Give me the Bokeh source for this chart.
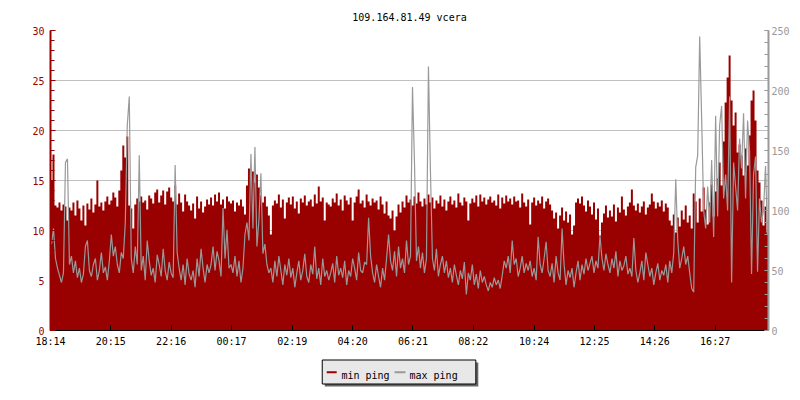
import numpy as np
from bokeh.plotting import figure
from bokeh.layouts import column
from bokeh.models import (LinearAxis, Range1d, FixedTicker, SingleIntervalTicker)
from bokeh.core.properties import value
from bokeh.embed import file_html
from bokeh.resources import INLINE

FONT = "DejaVu Sans Mono"
RED = "#990000"
GRAY = "#999999"

title_text = "109.164.81.49 vcera"
start_time = "18:14"
step_min = 4
tick_labels = ["18:14", "20:15", "22:16", "00:17", "02:19", "04:20",
               "06:21", "08:22", "10:24", "12:25", "14:26", "16:27"]
series_names = ["min ping", "max ping"]

min_ping = [
    15.0, 17.6, 12.5, 12.3, 12.8, 12.0, 12.6, 12.4, 11.0, 12.3,
    12.0, 12.8, 11.5, 13.0, 12.2, 11.0, 12.5, 10.5, 12.7, 12.1,
    13.2, 11.8, 12.6, 15.0, 12.4, 12.8, 12.0, 12.9, 13.4, 12.6,
    13.0, 13.8, 13.3, 12.4, 14.0, 16.0, 18.5, 17.3, 19.4, 12.5,
    12.2, 10.2, 12.6, 13.2, 12.9, 13.4, 12.8, 13.0, 12.1, 13.5,
    13.2, 12.7, 13.8, 14.1, 12.8, 13.5, 14.0, 12.6, 13.9, 14.3,
    13.3, 12.9, 14.5, 12.6, 13.7, 12.8, 11.9, 13.6, 12.9, 12.5,
    12.0, 12.7, 11.2, 13.4, 12.2, 12.9, 11.8, 12.4, 13.1, 12.6,
    13.3, 12.5, 13.6, 12.9, 13.8, 12.6, 13.1, 12.2, 13.4, 12.9,
    12.7, 13.0, 11.9, 12.8, 12.5, 13.1, 12.4, 11.6, 14.5, 16.2,
    15.3, 15.9, 14.8, 15.6, 14.3, 13.5, 12.8, 13.4, 12.4, 11.5,
    9.6, 12.5, 13.0, 12.7, 13.6, 12.3, 13.1, 11.2, 12.8, 13.3,
    12.6, 13.4, 12.2, 12.9, 11.7, 13.2, 12.8, 13.5, 12.5, 12.9,
    13.1, 12.4, 13.6, 12.7, 14.4, 12.9, 13.3, 11.0, 12.8, 12.6,
    12.4, 13.2, 12.8, 13.7, 12.5, 13.1, 12.0, 13.5, 13.0, 12.6,
    13.3, 11.0, 12.8, 13.4, 14.1, 12.7, 13.0, 12.3, 13.6, 12.9,
    12.5, 13.2, 12.8, 13.0, 12.1, 13.4, 12.6, 11.7, 12.9, 11.5,
    11.2, 12.0, 10.0, 11.4, 12.6, 11.8, 12.9, 12.3, 13.5, 12.8,
    13.1, 12.5, 13.4, 12.7, 13.8, 12.9, 12.4, 13.2, 12.6, 13.6,
    12.8, 13.3, 12.2, 13.0, 12.7, 13.5, 12.4, 13.1, 12.0, 12.9,
    13.4, 12.6, 13.0, 12.3, 13.7, 12.8, 12.5, 13.3, 12.9, 11.0,
    12.7, 13.2, 12.8, 13.5, 12.4, 13.6, 12.9, 13.3, 12.6, 13.1,
    13.4, 12.8, 13.0, 12.5, 13.6, 12.2, 13.3, 12.7, 13.5, 12.9,
    13.2, 12.6, 13.4, 12.9, 13.0, 12.3, 13.7, 12.8, 12.4, 13.1,
    10.6, 12.8, 13.3, 12.5, 13.0, 12.7, 13.4, 12.2, 12.9, 13.2,
    12.6, 12.0, 11.2, 11.8, 10.2, 11.5, 12.3, 11.0, 11.9, 10.8,
    11.6, 9.6, 10.5, 12.8, 13.2, 12.7, 13.4, 12.5, 11.9, 13.0,
    12.4, 11.6, 12.8, 11.1, 12.2, 9.5, 10.8, 11.7, 12.5, 11.3,
    12.0, 11.4, 12.6, 10.9, 12.3, 11.8, 13.4, 12.1, 11.5, 12.4,
    12.8, 14.1, 12.5, 12.0, 12.7, 11.8, 12.4, 12.9, 11.6, 12.3,
    12.6, 13.7, 12.9, 12.2, 12.8, 12.4, 13.0, 11.9, 12.7, 12.3,
    11.0, 10.5, 11.6, 9.8, 11.3, 10.4, 12.0, 11.1, 12.5, 10.8,
    11.5, 10.2, 13.7, 12.9, 10.8, 13.2, 11.9, 14.3, 12.1, 10.6,
    12.8, 14.6, 11.4, 13.9, 15.2, 16.8, 14.5, 18.9, 22.8, 25.3,
    27.5, 23.0, 20.5, 21.8, 17.8, 18.6, 17.5, 15.5, 18.2, 16.5,
    19.5, 23.0, 24.0, 21.0, 16.0, 14.8, 13.0, 10.5, 12.4, 9.8,
]

max_ping = [
    72, 85, 60, 52, 46, 40, 48, 140, 143, 55,
    62, 48, 58, 44, 52, 40, 47, 70, 75, 50,
    45, 55, 60, 42, 50, 65, 48, 53, 42, 58,
    80, 62, 70, 55, 48, 65, 60, 90, 171, 195,
    60, 48, 70, 55, 146, 50, 62, 42, 75, 58,
    46, 52, 40, 63, 55, 45, 68, 50, 42, 57,
    48, 44, 138, 65, 52, 42, 55, 38, 60, 47,
    42, 50, 36, 60, 45, 68, 52, 40, 55, 48,
    55, 70, 50, 66, 58, 45, 102, 60, 84, 52,
    55, 48, 62, 45, 58, 40, 52, 80, 90, 75,
    147, 85, 153, 70, 92, 131, 64, 72, 55, 48,
    52, 40, 58, 45, 62, 50, 38, 55, 46, 60,
    44, 52, 36, 48, 58, 42, 50, 64, 45, 40,
    55, 47, 70, 43, 52, 38, 60, 45, 50, 42,
    48, 56, 40, 62, 46, 52, 44, 58, 38, 50,
    45, 60, 52, 42, 65, 50, 48, 57, 55, 94,
    62, 48, 40, 55, 45, 36, 52, 42, 60, 80,
    58, 50, 66, 45, 70, 52, 60, 48, 75, 55,
    62, 203, 140, 58, 70, 52, 65, 48, 60, 220,
    133, 60, 50, 68, 45, 55, 62, 48, 58, 44,
    52, 40, 55, 46, 38, 50, 43, 57, 30, 48,
    42, 55, 38, 47, 35, 50, 40, 45, 38, 33,
    40, 36, 44, 38, 42, 35, 46, 58, 52, 62,
    48, 75, 55, 60, 45, 52, 62, 48, 56, 50,
    58, 45, 52, 42, 78, 55, 48, 60, 74, 50,
    45, 56, 40, 62, 48, 42, 85, 55, 38, 50,
    44, 52, 36, 48, 58, 42, 55, 47, 60, 50,
    56, 62, 48, 58, 52, 79, 60, 50, 64, 55,
    48, 60, 52, 66, 45, 58, 50, 54, 62, 47,
    52, 45, 77, 50, 40, 48, 58, 42, 65, 55,
    45, 52, 38, 48, 56, 42, 50, 46, 55, 40,
    58, 48, 65, 126, 75, 52, 60, 70, 55, 62,
    48, 35, 32, 136, 146, 245, 175, 100, 85, 120,
    90, 142, 78, 179, 95, 171, 187, 110, 130, 100,
    195, 40, 140, 120, 100, 160, 135, 181, 110, 175,
    150, 47, 130, 145, 49, 110, 90, 100, 137, 80,
]

left_range = (0, 30)
right_range = (0, 250)


def to_min(s):
    h, m = map(int, s.split(":"))
    return h * 60 + m


n = len(min_ping)
t = np.arange(n) * step_min
span = n * step_min
t0 = to_min(start_time)
tick_pos = [float((to_min(s) - t0) % 1440) for s in tick_labels]

W = 792
BL, BR = 50, 22
H1 = 22      # title strip height
H2 = 42      # legend strip height
TOP2 = 350   # page y where the legend strip starts


def strip(height, y_top):
    f = figure(width=W, height=height, output_backend="svg", toolbar_location=None,
               x_range=Range1d(BL, W - BR), y_range=Range1d(y_top + height, y_top),
               x_axis_type=None, y_axis_type=None,
               min_border_left=BL, min_border_right=BR,
               min_border_top=0, min_border_bottom=0)
    f.outline_line_color = None
    f.grid.visible = False
    f.background_fill_color = "white"
    f.border_fill_color = "white"
    return f


# title strip
tf = strip(H1, 0)
tf.text(x=[(BL + W - BR) / 2], y=[17.3], text=[title_text],
        text_font=value(FONT), text_font_size="10px", text_color="black",
        text_align="center", text_baseline="alphabetic")

# main chart
p = figure(width=W, height=TOP2 - H1, output_backend="svg", toolbar_location=None,
           x_range=Range1d(0, span), y_range=Range1d(*left_range),
           min_border_left=BL, min_border_right=BR, min_border_top=30 - H1,
           min_border_bottom=20)
p.title = None
p.extra_y_ranges = {"right": Range1d(*right_range)}
p.outline_line_color = None
p.background_fill_color = "white"
p.border_fill_color = "white"

p.xgrid.visible = False
p.ygrid.ticker = SingleIntervalTicker(interval=5)
p.ygrid.grid_line_color = "#c0c0c0"
p.ygrid.grid_line_width = 1

xs = np.append(t, span)
ys = np.append(np.array(min_ping), min_ping[-1])
p.varea_step(x=xs, y1=0, y2=ys, step_mode="after", fill_color=RED)
p.line(x=t + step_min / 2, y=max_ping, line_color=GRAY,
       line_width=1.2, y_range_name="right")

xa = p.xaxis[0]
xa.ticker = FixedTicker(ticks=tick_pos)
xa.major_label_overrides = {pos: lab for pos, lab in zip(tick_pos, tick_labels)}
xa.axis_line_color = "black"
xa.major_tick_line_color = "black"
xa.minor_tick_line_color = None
xa.major_tick_in = 5
xa.major_tick_out = 0
xa.major_label_standoff = 5
xa.major_label_text_font = FONT
xa.major_label_text_font_size = "10px"
xa.major_label_text_color = "black"

ya = p.yaxis[0]
ya.ticker = SingleIntervalTicker(interval=5, num_minor_ticks=5)
ya.axis_line_color = RED
ya.axis_line_width = 2
ya.major_tick_line_color = RED
ya.minor_tick_line_color = RED
ya.major_tick_in = 5
ya.major_tick_out = 0
ya.minor_tick_in = 4
ya.minor_tick_out = 0
ya.major_label_standoff = 6
ya.major_label_text_font = FONT
ya.major_label_text_font_size = "10px"
ya.major_label_text_color = RED

ra = LinearAxis(y_range_name="right",
                ticker=SingleIntervalTicker(interval=50, num_minor_ticks=5))
ra.axis_line_color = GRAY
ra.axis_line_width = 2
ra.major_tick_line_color = GRAY
ra.minor_tick_line_color = GRAY
ra.major_tick_in = 4
ra.major_tick_out = 0
ra.minor_tick_in = 4
ra.minor_tick_out = 0
ra.major_label_standoff = 3
ra.major_label_text_font = FONT
ra.major_label_text_font_size = "10px"
ra.major_label_text_color = GRAY
p.add_layout(ra, "right")

# legend strip with drop shadow
lg = strip(H2, TOP2)
lg.quad(left=[325], right=[479], top=[362], bottom=[386],
        fill_color="#666666", line_color=None)
lg.quad(left=[322.5], right=[476.5], top=[359.5], bottom=[383.5],
        fill_color="#e8e8e8", line_color="black", line_width=1)
lg.line(x=[327, 337], y=[371.7, 371.7], line_color=RED, line_width=2)
lg.line(x=[395, 406], y=[371.7, 371.7], line_color=GRAY, line_width=2)
lg.text(x=[341.7, 410], y=[374.5, 374.5], text=series_names,
        text_font=value(FONT), text_font_size="10px", text_color="black",
        text_align="left", text_baseline="alphabetic")

layout = column(tf, p, lg, spacing=0)
open("out.html", "w").write(file_html(layout, INLINE))
